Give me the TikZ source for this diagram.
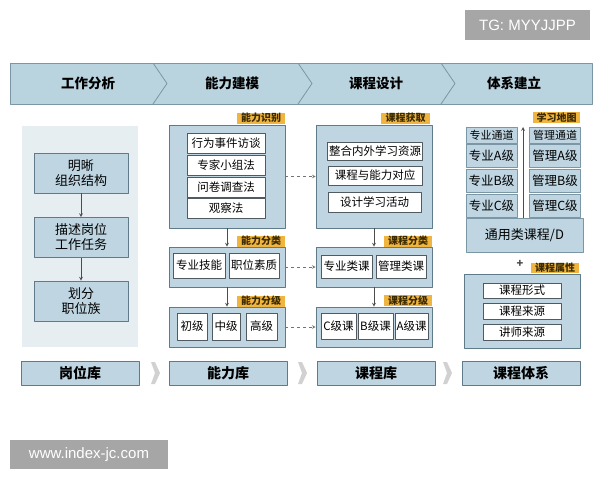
\documentclass[tikz,border=0pt]{standalone}
\usepackage{fontspec}
\setmainfont{Noto Sans CJK SC}
\newfontfamily\marksans{Liberation Sans}
\definecolor{bandfill}{HTML}{B9D3DF}
\definecolor{bandline}{HTML}{7B97A5}
\definecolor{boxfill}{HTML}{BFD6E2}
\definecolor{boxline}{HTML}{5F7B89}
\definecolor{panelfill}{HTML}{E6EEF2}
\definecolor{tagfill}{HTML}{F0B440}
\definecolor{tagtext}{HTML}{3A2A00}
\definecolor{cellline}{HTML}{505A60}
\definecolor{markfill}{HTML}{A6A6A6}
\begin{document}
\begin{tikzpicture}[>=stealth, line join=round, x=1pt, y=-1pt,
    outerbox/.style={draw=boxline, fill=boxfill, line width=.8pt, inner sep=0pt},
    cell/.style={draw=cellline, fill=white, line width=.6pt, inner sep=0pt, font=\fontsize{11.5}{11.5}\selectfont},
    mapcell/.style={draw=bandline, fill=boxfill, line width=.6pt, inner sep=0pt, minimum width=51pt, font=\fontsize{12.5}{12.5}\selectfont},
    stepbox/.style={draw=boxline, fill=boxfill, line width=.8pt, inner sep=0pt, minimum width=94pt, minimum height=40pt, align=center, font=\fontsize{13}{15}\selectfont},
    libbox/.style={draw=boxline, fill=boxfill, line width=.8pt, inner sep=0pt, minimum width=118pt, minimum height=24pt, font=\fontsize{14}{14}\selectfont\bfseries},
    tag/.style={fill=tagfill, inner sep=0pt, minimum width=48pt, minimum height=11pt, text=tagtext, font=\fontsize{10}{10}\selectfont\bfseries},
    headtext/.style={font=\fontsize{13.5}{13.5}\selectfont\bfseries},
    wmark/.style={fill=markfill, text=white, inner sep=0pt, font=\marksans\fontsize{15}{15}\selectfont},
    flow/.style={->, draw=black!70, line width=.7pt},
    link/.style={->, dashed, draw=black!55, line width=.6pt}]
    \useasboundingbox (0,0) rectangle (600,480);
    % stage band
    \draw[fill=bandfill, draw=bandline, line width=.8pt] (10,63) rectangle (592,104);
    \draw[bandline, line width=.8pt] (153,63)--(167,83.5)--(153,104)
    (298,63)--(312,83.5)--(298,104)
    (441,63)--(455,83.5)--(441,104);
    \node[headtext] (hjob) at (88,83.5) {工作分析};
    \node[headtext] (hability) at (232,83.5) {能力建模};
    \node[headtext] (hdesign) at (376,83.5) {课程设计};
    \node[headtext] (hsystem) at (514,83.5) {体系建立};
    % job analysis
    \fill[panelfill] (22,126) rectangle (138,347);
    \node[stepbox] (jorg) at (81,173) {明晰\\组织结构};
    \node[stepbox] (jtask) at (81,237.5) {描述岗位\\工作任务};
    \node[stepbox] (jfam) at (81,301) {划分\\职位族};
    \draw[flow] (jorg) -- (jtask);
    \draw[flow] (jtask) -- (jfam);
    % ability modelling
    \node[outerbox, minimum width=116pt, minimum height=103pt] (nid) at (227,176.5) {};
    \node[cell, minimum width=78pt, minimum height=20pt] (nid1) at (226,143) {行为事件访谈};
    \node[cell, minimum width=78pt, minimum height=20pt] (nid2) at (226,165.5) {专家小组法};
    \node[cell, minimum width=78pt, minimum height=20pt] (nid3) at (226,187) {问卷调查法};
    \node[cell, minimum width=78pt, minimum height=20pt] (nid4) at (226,208.5) {观察法};
    \node[tag] (tnid) at (261,118) {能力识别};
    \node[outerbox, minimum width=116pt, minimum height=40pt] (ncls) at (227,267) {};
    \node[cell, minimum width=52pt, minimum height=25pt] (ncls1) at (199,265.5) {专业技能};
    \node[cell, minimum width=50pt, minimum height=25pt] (ncls2) at (254,265.5) {职位素质};
    \node[tag] (tncls) at (261,241) {能力分类};
    \node[outerbox, minimum width=116pt, minimum height=40pt] (nlev) at (227,327) {};
    \node[cell, minimum width=30pt, minimum height=27pt] (nlev1) at (192,326.5) {初级};
    \node[cell, minimum width=28pt, minimum height=27pt] (nlev2) at (226,326.5) {中级};
    \node[cell, minimum width=31pt, minimum height=27pt] (nlev3) at (261.5,326.5) {高级};
    \node[tag] (tnlev) at (261,301) {能力分级};
    \draw[flow] (nid) -- (ncls);
    \draw[flow] (ncls) -- (nlev);
    % course design
    \node[outerbox, minimum width=116pt, minimum height=103pt] (kget) at (374,176.5) {};
    \node[cell, minimum width=95pt, minimum height=18pt] (kget1) at (375,151) {整合内外学习资源};
    \node[cell, minimum width=94pt, minimum height=19pt] (kget2) at (375,175.5) {课程与能力对应};
    \node[cell, minimum width=93pt, minimum height=20pt] (kget3) at (374.5,202) {设计学习活动};
    \node[tag, minimum width=49pt] (tkget) at (405.5,118) {课程获取};
    \node[outerbox, minimum width=116pt, minimum height=40pt] (kcls) at (374,267) {};
    \node[cell, minimum width=51pt, minimum height=23pt] (kcls1) at (346.5,266.5) {专业类课};
    \node[cell, minimum width=50pt, minimum height=23pt] (kcls2) at (401,266.5) {管理类课};
    \node[tag] (tkcls) at (408,241) {课程分类};
    \node[outerbox, minimum width=116pt, minimum height=40pt] (klev) at (374,327) {};
    \node[cell, minimum width=35pt, minimum height=26pt] (klev1) at (338.5,326) {C级课};
    \node[cell, minimum width=35pt, minimum height=26pt] (klev2) at (375.5,326) {B级课};
    \node[cell, minimum width=33pt, minimum height=26pt] (klev3) at (411.5,326) {A级课};
    \node[tag] (tklev) at (408,300.5) {课程分级};
    \draw[flow] (kget) -- (kcls);
    \draw[flow] (kcls) -- (klev);
    \draw[link] (nid) -- (kget);
    \draw[link] (ncls) -- (kcls);
    \draw[link] (nlev) -- (klev);
    % learning map
    \node[mapcell, minimum height=16pt, font=\fontsize{11}{11}\selectfont] (pway) at (491.5,135) {专业通道};
    \node[mapcell, minimum height=23pt] (pa) at (491.5,155.5) {专业A级};
    \node[mapcell, minimum height=23pt] (pb) at (491.5,180.5) {专业B级};
    \node[mapcell, minimum height=23pt] (pc) at (491.5,205.5) {专业C级};
    \node[mapcell, minimum height=16pt, font=\fontsize{11}{11}\selectfont] (mway) at (555,135) {管理通道};
    \node[mapcell, minimum height=23pt] (ma) at (555,155.5) {管理A级};
    \node[mapcell, minimum height=23pt] (mb) at (555,180.5) {管理B级};
    \node[mapcell, minimum height=23pt] (mc) at (555,205.5) {管理C级};
    \node[mapcell, minimum width=117pt, minimum height=34pt, font=\fontsize{13}{13}\selectfont] (general) at (524.5,235) {通用类课程/D};
    \coordinate (maptop) at (523,127);
    \draw[flow] (general.north -| maptop) -- (maptop);
    \node[tag, minimum width=47pt] (tmap) at (556.5,117.5) {学习地图};
    % course attributes
    \node[font=\fontsize{11}{11}\selectfont\bfseries, text=black!75] (plus) at (520,264) {+};
    \node[tag, minimum height=10pt] (tattr) at (555,268) {课程属性};
    \node[outerbox, minimum width=116pt, minimum height=74pt] (attr) at (522,311) {};
    \node[cell, minimum width=78pt, minimum height=15pt] (attr1) at (522,290.5) {课程形式};
    \node[cell, minimum width=78pt, minimum height=16pt] (attr2) at (522,311) {课程来源};
    \node[cell, minimum width=78pt, minimum height=16pt] (attr3) at (522,332) {讲师来源};
    % libraries
    \node[libbox] (ljob) at (80,373) {岗位库};
    \node[libbox] (lability) at (228,373) {能力库};
    \node[libbox] (lcourse) at (376,373) {课程库};
    \node[libbox] (lsystem) at (521,373) {课程体系};
    \fill[black!18] (151,362)--(155,362)--(160,373)--(155,384)--(151,384)--(155,373)--cycle
    (298,362)--(302,362)--(307,373)--(302,384)--(298,384)--(302,373)--cycle
    (443,362)--(447,362)--(452,373)--(447,384)--(443,384)--(447,373)--cycle;
    % marks
    \node[wmark, minimum width=125pt, minimum height=30pt] (tg) at (527.5,25) {TG: MYYJJPP};
    \node[wmark, minimum width=158pt, minimum height=29pt] (site) at (89,454.5) {www.index-jc.com};
\end{tikzpicture}
\end{document}
